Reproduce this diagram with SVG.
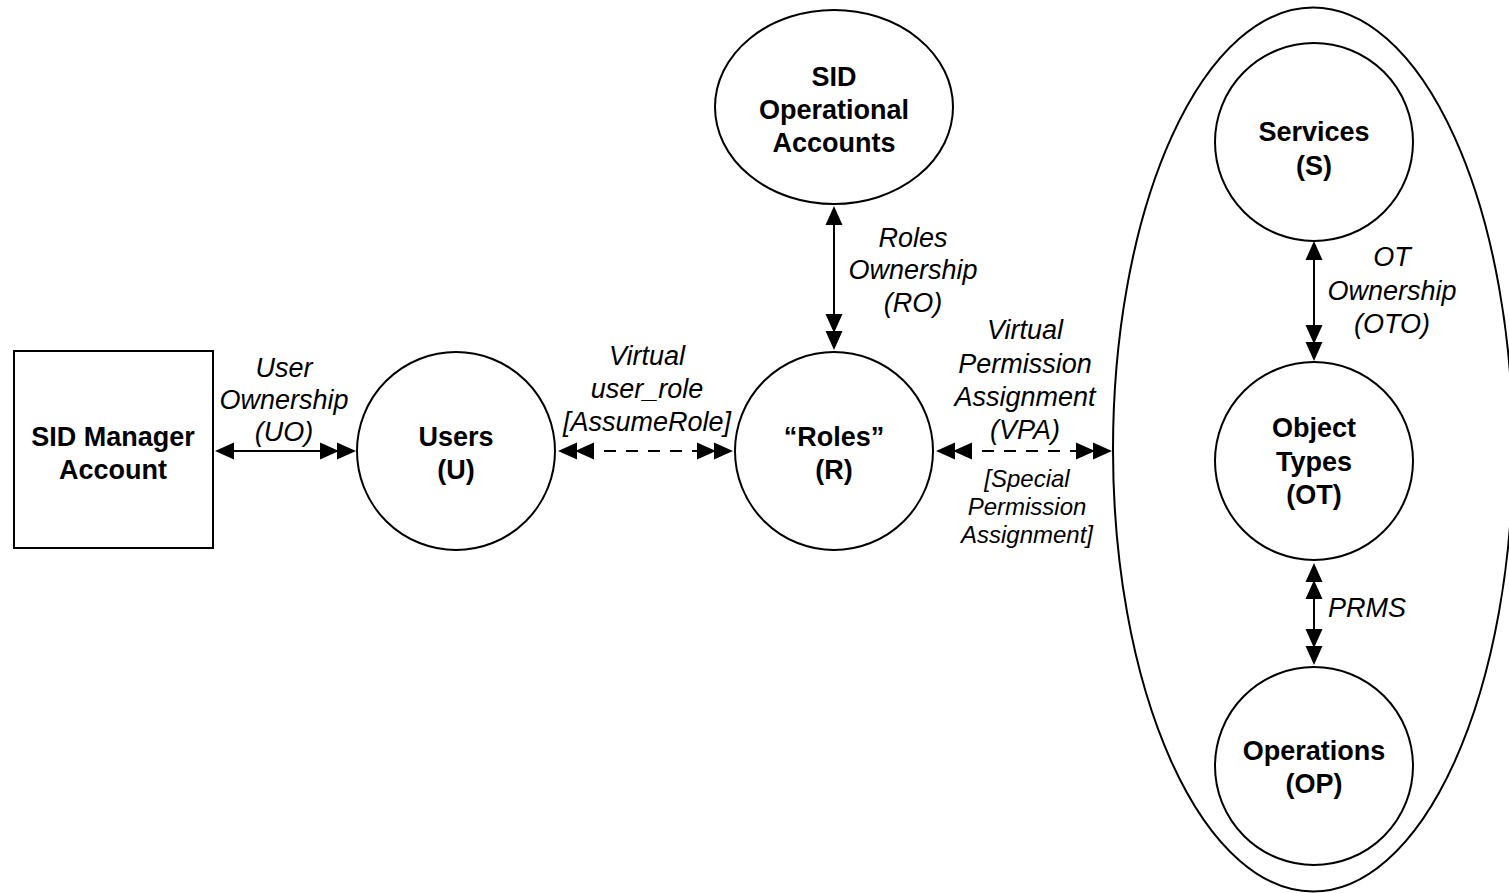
<svg xmlns="http://www.w3.org/2000/svg" width="1509" height="893" viewBox="0 0 1509 893">
<style>
.shape{fill:#fff;stroke:#000;stroke-width:2}
.bg{fill:none;stroke:#000;stroke-width:2}
.n{font-family:"Liberation Sans",Arial,sans-serif;font-weight:bold;font-size:27px;text-anchor:middle;fill:#000}
.l{font-family:"Liberation Sans",Arial,sans-serif;font-style:italic;font-size:27px;text-anchor:middle;fill:#000}
.s{font-family:"Liberation Sans",Arial,sans-serif;font-style:italic;font-size:24px;text-anchor:middle;fill:#000}
.c{fill:none;stroke:#000;stroke-width:2}
.d{stroke-dasharray:12 10}
</style>
<defs>
<marker id="a1" markerUnits="userSpaceOnUse" markerWidth="19" markerHeight="18" viewBox="0 0 19 18" refX="17" refY="9" orient="auto-start-reverse">
<path d="M0,0.5 L19,9 L0,17.5 z" fill="#000"/>
</marker>
<marker id="a2" markerUnits="userSpaceOnUse" markerWidth="36" markerHeight="18" viewBox="0 0 36 18" refX="34" refY="9" orient="auto-start-reverse">
<path d="M0,0.5 L19,9 L0,17.5 z M17,0.5 L36,9 L17,17.5 z" fill="#000"/>
</marker>
</defs>
<g id="group-ellipse">
<ellipse class="bg" cx="1313" cy="449.5" rx="200" ry="442"/>
</g>
<g id="node-sid-manager">
<rect class="shape" x="14" y="351" width="199" height="197"/>
<text class="n" x="113" y="446">SID Manager</text>
<text class="n" x="113" y="479">Account</text>
</g>
<g id="node-users">
<circle class="shape" cx="456" cy="451" r="99"/>
<text class="n" x="456" y="446">Users</text>
<text class="n" x="456" y="479">(U)</text>
</g>
<g id="node-roles">
<circle class="shape" cx="834" cy="451" r="99"/>
<text class="n" x="834" y="446">“Roles”</text>
<text class="n" x="834" y="479">(R)</text>
</g>
<g id="node-sid-operational">
<ellipse class="shape" cx="834" cy="107" rx="119" ry="97"/>
<text class="n" x="834" y="86">SID</text>
<text class="n" x="834" y="119">Operational</text>
<text class="n" x="834" y="152">Accounts</text>
</g>
<g id="node-services">
<circle class="shape" cx="1314" cy="142" r="99"/>
<text class="n" x="1314" y="141">Services</text>
<text class="n" x="1314" y="175">(S)</text>
</g>
<g id="node-object-types">
<circle class="shape" cx="1314" cy="461" r="99"/>
<text class="n" x="1314" y="437">Object</text>
<text class="n" x="1314" y="471">Types</text>
<text class="n" x="1314" y="504">(OT)</text>
</g>
<g id="node-operations">
<circle class="shape" cx="1314" cy="766" r="99"/>
<text class="n" x="1314" y="760">Operations</text>
<text class="n" x="1314" y="793">(OP)</text>
</g>
<g id="connectors">
<path class="c" d="M217,451 H354" marker-start="url(#a1)" marker-end="url(#a2)"/>
<path class="c d" d="M560,451 H731" marker-start="url(#a2)" marker-end="url(#a2)"/>
<path class="c d" d="M938,451 H1110" marker-start="url(#a2)" marker-end="url(#a2)"/>
<path class="c" d="M834,208 V348" marker-start="url(#a1)" marker-end="url(#a2)"/>
<path class="c" d="M1314,243 V359" marker-start="url(#a1)" marker-end="url(#a2)"/>
<path class="c" d="M1314,565 V663" marker-start="url(#a2)" marker-end="url(#a2)"/>
</g>
<g id="labels">
<text class="l" x="284" y="377">User</text>
<text class="l" x="284" y="409">Ownership</text>
<text class="l" x="284" y="441">(UO)</text>
<text class="l" x="647" y="365">Virtual</text>
<text class="l" x="647" y="398">user_role</text>
<text class="l" x="647" y="431">[AssumeRole]</text>
<text class="l" x="913" y="247">Roles</text>
<text class="l" x="913" y="279">Ownership</text>
<text class="l" x="913" y="312">(RO)</text>
<text class="l" x="1025" y="339">Virtual</text>
<text class="l" x="1025" y="373">Permission</text>
<text class="l" x="1025" y="406">Assignment</text>
<text class="l" x="1025" y="439">(VPA)</text>
<text class="s" x="1027" y="487">[Special</text>
<text class="s" x="1027" y="515">Permission</text>
<text class="s" x="1027" y="543">Assignment]</text>
<text class="l" x="1392" y="266">OT</text>
<text class="l" x="1392" y="300">Ownership</text>
<text class="l" x="1392" y="333">(OTO)</text>
<text class="l" x="1367" y="617">PRMS</text>
</g>
</svg>
